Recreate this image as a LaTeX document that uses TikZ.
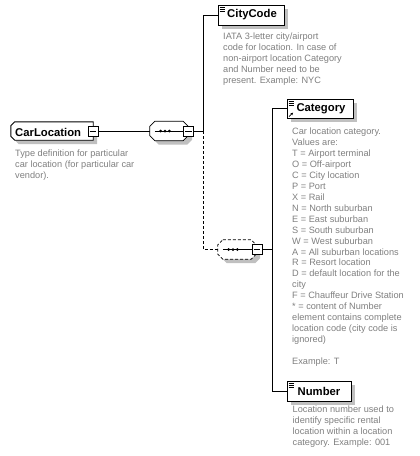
\documentclass[tikz,border=0pt]{standalone}
\usepackage{fontspec}
\setmainfont{Liberation Sans}
\usetikzlibrary{shadows,arrows.meta}
\definecolor{descgray}{RGB}{128,128,128}
\definecolor{shadowgray}{RGB}{192,192,192}
% chamfered outline round a node: name, chamfer, dx, dy (dy downwards)
\newcommand\octopath[4]{%
 ([xshift=#2pt+#3pt,yshift=-#4pt]#1.north west) --
 ([xshift=-#2pt+#3pt,yshift=-#4pt]#1.north east) --
 ([xshift=#3pt,yshift=-#2pt-#4pt]#1.north east) --
 ([xshift=#3pt,yshift=#2pt-#4pt]#1.south east) --
 ([xshift=-#2pt+#3pt,yshift=-#4pt]#1.south east) --
 ([xshift=#2pt+#3pt,yshift=-#4pt]#1.south west) --
 ([xshift=#3pt,yshift=#2pt-#4pt]#1.south west) --
 ([xshift=#3pt,yshift=-#2pt-#4pt]#1.north west) -- cycle}
\newcommand\leftchpath[4]{%
 ([xshift=#2pt+#3pt,yshift=-#4pt]#1.north west) --
 ([xshift=#3pt,yshift=-#4pt]#1.north east) --
 ([xshift=#3pt,yshift=-#4pt]#1.south east) --
 ([xshift=#2pt+#3pt,yshift=-#4pt]#1.south west) --
 ([xshift=#3pt,yshift=#2pt-#4pt]#1.south west) --
 ([xshift=#3pt,yshift=-#2pt-#4pt]#1.north west) -- cycle}
\begin{document}
\begin{tikzpicture}[x=1pt,y=-1pt,
  conn/.style={draw=black, line width=0.8pt},
  dconn/.style={conn, dash pattern=on 3pt off 2pt},
  shad/.style={drop shadow={shadow xshift=4pt, shadow yshift=-4pt, fill=shadowgray, opacity=1}},
  elbox/.style={draw=black, line width=0.9pt, fill=white, shad, rectangle, inner sep=0pt,
     font=\fontsize{11.3}{13}\selectfont\bfseries},
  holder/.style={rectangle, inner sep=0pt},
  outline/.style={draw=black, line width=0.9pt, fill=white},
  shadowfill/.style={fill=shadowgray},
  minusbox/.style={draw=black, line width=0.8pt, fill=white, rectangle, inner sep=0pt, minimum size=10pt},
  desc/.style={anchor=north west, inner sep=0pt, align=left, text=descgray,
     font=\fontsize{9.2}{10.95}\selectfont},
  elname/.style={inner sep=0pt, font=\fontsize{11.3}{13}\selectfont\bfseries},
  icon/.style={draw=black, line width=0.6pt},
]
\useasboundingbox (0,0) rectangle (420,456);
\fill[white] (0,0) rectangle (420,456);

% CarLocation complex type
\node[holder, minimum width=82pt, minimum height=18pt] (cl) at (52,131) {};
\fill[shadowfill] \leftchpath{cl}{4}{4}{4};
\draw[outline] \leftchpath{cl}{4}{0}{0};
\node[elname, anchor=base west] (cltext) at (15,136.5) {CarLocation};
\node[minusbox] (clm) at (93,131) {};
\draw[conn] ([xshift=2pt]clm.west) -- ([xshift=-2pt]clm.east);
\node[desc] (cldesc) at (15,149.7) {Type definition for particular\\car location (for particular car\\vendor).};

% sequence 1
\node[holder, minimum width=38pt, minimum height=19pt] (seq1) at (169,131) {};
\fill[shadowfill] \octopath{seq1}{5}{4}{4};
\draw[outline, line width=0.8pt] \octopath{seq1}{5}{0}{0};
\node[minusbox] (m1) at (188.5,131) {};
\draw[conn] ([xshift=2pt]m1.west) -- ([xshift=-2pt]m1.east);
\draw[conn] ([xshift=5pt]seq1.west) -- (m1.west);
\foreach \dx in {-4.3,0,4.3}
  \fill ([xshift=\dx pt-4pt]seq1.center) circle (1.5pt);

% sequence 2 (optional)
\node[holder, minimum width=38pt, minimum height=19pt] (seq2) at (237,249.5) {};
\fill[shadowfill] \octopath{seq2}{5}{4}{4};
\draw[outline, line width=0.8pt, dash pattern=on 3pt off 2pt] \octopath{seq2}{5}{0}{0};
\node[minusbox] (m2) at (257,249.5) {};
\draw[conn] ([xshift=2pt]m2.west) -- ([xshift=-2pt]m2.east);
\draw[conn] ([xshift=5pt]seq2.west) -- (m2.west);
\foreach \dx in {-4.3,0,4.3}
  \fill ([xshift=\dx pt-4pt]seq2.center) circle (1.5pt);

% elements
\node[elbox, minimum width=66pt, minimum height=20pt] (cc) at (251,15) {\hspace*{2pt}CityCode};
\node[desc] (ccdesc) at (223,32.7) {IATA 3-letter city/airport\\code for location. In case of\\non-airport location Category\\and Number need to be\\present. Example: NYC};

\node[elbox, minimum width=66pt, minimum height=19pt] (cat) at (320,108.5) {\hspace*{2pt}Category};
\node[desc] (catdesc) at (292,127.7) {Car location category.\\Values are:\\T = Airport terminal\\O = Off-airport\\C = City location\\P = Port\\X = Rail\\N = North suburban\\E = East suburban\\S = South suburban\\W = West suburban\\A = All suburban locations\\R = Resort location\\D = default location for the\\city\\F = Chauffeur Drive Station\\* = content of Number\\element contains complete\\location code (city code is\\ignored)\\[10.95pt]Example: T};

\node[elbox, minimum width=64pt, minimum height=20pt] (num) at (319,391) {Number};
\node[desc] (numdesc) at (292.5,405.7) {Location number used to\\identify specific rental\\location within a location\\category.  Example: 001};

% element icons
\foreach \n in {cc,cat,num}{
  \foreach \dy in {2.5,4.5,6.5}
    \draw[icon] ([shift={(2,\dy)}]\n.north west) -- ++(5,0);
}
\draw[line width=0.7pt, -{Stealth[length=2.6pt,width=2.6pt]}] ([shift={(2.5,-1.8)}]cat.south west) -- ++(4,-4);

% connectors
\coordinate (j1) at (203,131);
\coordinate (j2) at (272,249.5);
\draw[conn] (clm.east) -- (seq1.west);
\draw[conn] (m1.east) -- (j1) |- (cc.west);
\draw[dconn] (j1) |- (seq2.west);
\draw[conn] (m2.east) -- (j2);
\draw[conn] (j2) |- (cat.west);
\draw[conn] (j2) |- (num.west);
\end{tikzpicture}
\end{document}
